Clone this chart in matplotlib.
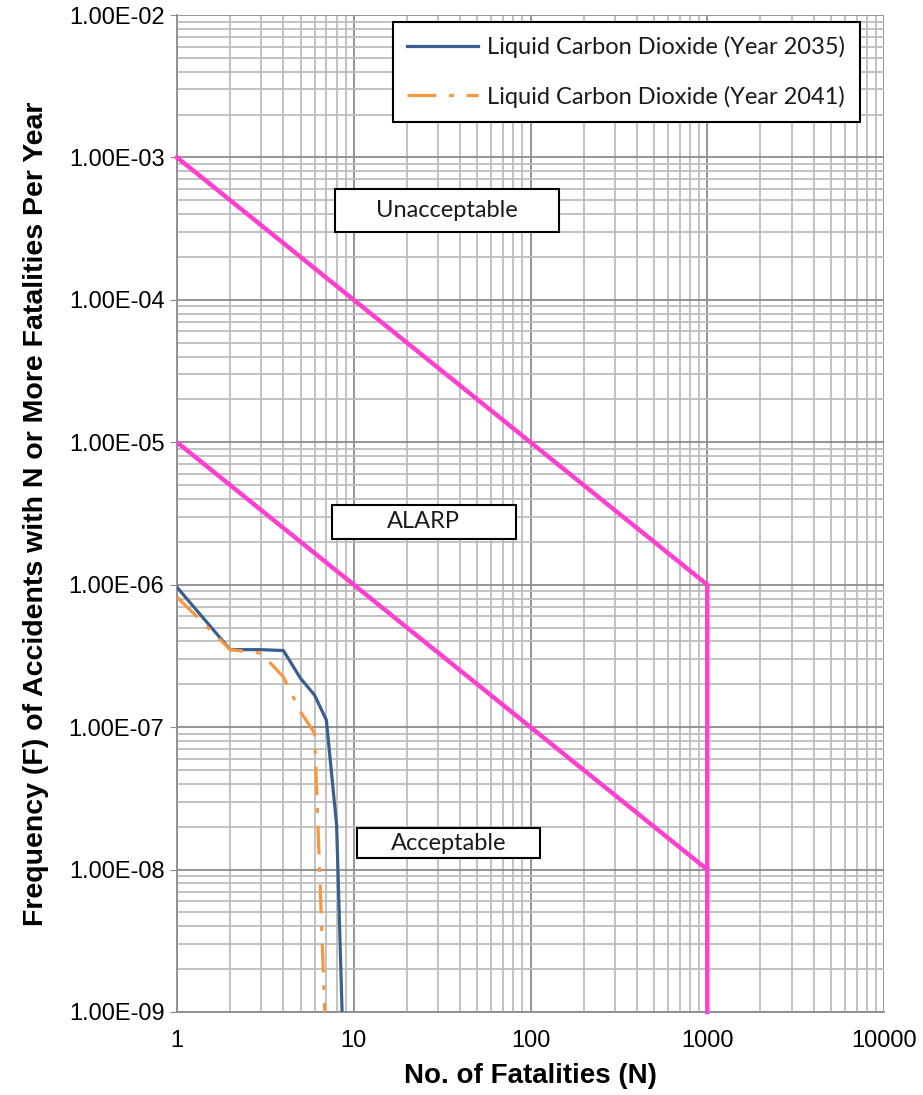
import matplotlib
matplotlib.use("Agg")
import matplotlib.pyplot as plt
from matplotlib.patches import Rectangle
from matplotlib.ticker import LogLocator, FixedLocator, NullFormatter

# F-N curve data
n_2035 = [1, 2, 3, 4, 5, 6, 7, 8, 9]
f_2035 = [9.6e-7, 3.5e-7, 3.5e-7, 3.45e-7, 2.2e-7, 1.68e-7, 1.12e-7, 2.05e-8, 1.4e-10]
n_2041 = [1, 2, 3, 4, 5, 6, 7]
f_2041 = [8.2e-7, 3.5e-7, 3.3e-7, 2.25e-7, 1.28e-7, 9.1e-8, 5e-10]

# risk criteria lines
upper_n = [1, 1000, 1000]
upper_f = [1e-3, 1e-6, 1e-9]
lower_n = [1, 1000]
lower_f = [1e-5, 1e-8]

x_ticks = [1, 10, 100, 1000, 10000]
y_ticks = [1e-9, 1e-8, 1e-7, 1e-6, 1e-5, 1e-4, 1e-3, 1e-2]

PINK = '#FF3FD0'
BLUE = '#3A5F8E'
ORANGE = '#F7973F'

fig = plt.figure(figsize=(9.23, 10.95), dpi=100)
ax = fig.add_axes([177/923, 1 - 1012/1095, 707/923, 997/1095])
ax.set_xscale('log')
ax.set_yscale('log')
ax.set_xlim(1, 10000)
ax.set_ylim(1e-9, 1e-2)

ax.grid(True, which='major', color='#8c8c8c', lw=1.3, zorder=0)
ax.grid(True, which='minor', color='#bdbdbd', lw=1.3, zorder=0)
ax.xaxis.set_minor_locator(LogLocator(base=10, subs=range(2, 10)))
ax.yaxis.set_minor_locator(LogLocator(base=10, subs=range(2, 10)))
ax.xaxis.set_minor_formatter(NullFormatter())
ax.yaxis.set_minor_formatter(NullFormatter())
ax.xaxis.set_major_locator(FixedLocator(x_ticks))
ax.yaxis.set_major_locator(FixedLocator(y_ticks))
ax.set_xticklabels([str(v) for v in x_ticks], fontsize=17, family='Liberation Sans')
ax.set_yticklabels(['%.2E' % v for v in y_ticks], fontsize=17, family='Liberation Sans')
ax.tick_params(axis='x', which='both', length=0, pad=13)
ax.tick_params(axis='y', which='major', length=5, color='#8c8c8c', pad=4)
ax.tick_params(axis='y', which='minor', length=0)
for s in ['top', 'right']:
    ax.spines[s].set_visible(False)
for s in ['left', 'bottom']:
    ax.spines[s].set_color('#8c8c8c')
    ax.spines[s].set_linewidth(1.3)

ax.plot(upper_n, upper_f, color=PINK, lw=3.2, zorder=3, clip_on=False)
ax.plot(lower_n, lower_f, color=PINK, lw=3.2, zorder=3)
ax.plot(n_2035, f_2035, color=BLUE, lw=2.3, zorder=4,
        label='Liquid Carbon Dioxide (Year 2035)')
ax.plot(n_2041, f_2041, color=ORANGE, lw=2.3, zorder=4, dashes=(9, 4, 1.5, 4),
        label='Liquid Carbon Dioxide (Year 2041)')

# region labels: text, centre x, centre y, width, height (axes fraction)
boxes = [('Unacceptable', 0.382, 0.804, 0.317, 0.043),
         ('ALARP', 0.349, 0.4915, 0.260, 0.034),
         ('Acceptable', 0.384, 0.1695, 0.259, 0.030)]
for txt, cx, cy, w, h in boxes:
    ax.add_patch(Rectangle((cx - w/2, cy - h/2), w, h, transform=ax.transAxes,
                           facecolor='white', edgecolor='black', lw=1.5, zorder=5))
    ax.text(cx, cy, txt, transform=ax.transAxes, ha='center', va='center',
            fontsize=17, family='Lato', color='#1a1a1a', zorder=6)

leg = ax.legend(loc='upper left', bbox_to_anchor=(393/923, 1 - 22/1095),
                bbox_transform=fig.transFigure, borderaxespad=0,
                prop={'family': 'Lato', 'size': 17},
                handlelength=3.0, handletextpad=0.4, fancybox=False, framealpha=1,
                edgecolor='black', borderpad=0.6, labelspacing=1.15)
leg.get_frame().set_linewidth(1.5)
for t in leg.get_texts():
    t.set_color('#1a1a1a')

ax.set_xlabel('No. of Fatalities (N)', fontsize=20, fontweight='bold',
              family='Liberation Sans', labelpad=8)
ax.set_ylabel('Frequency (F) of Accidents with N or More Fatalities Per Year',
              fontsize=20.5, fontweight='bold', family='Liberation Sans', labelpad=14)

fig.savefig('out.png', dpi=100, facecolor='white')
